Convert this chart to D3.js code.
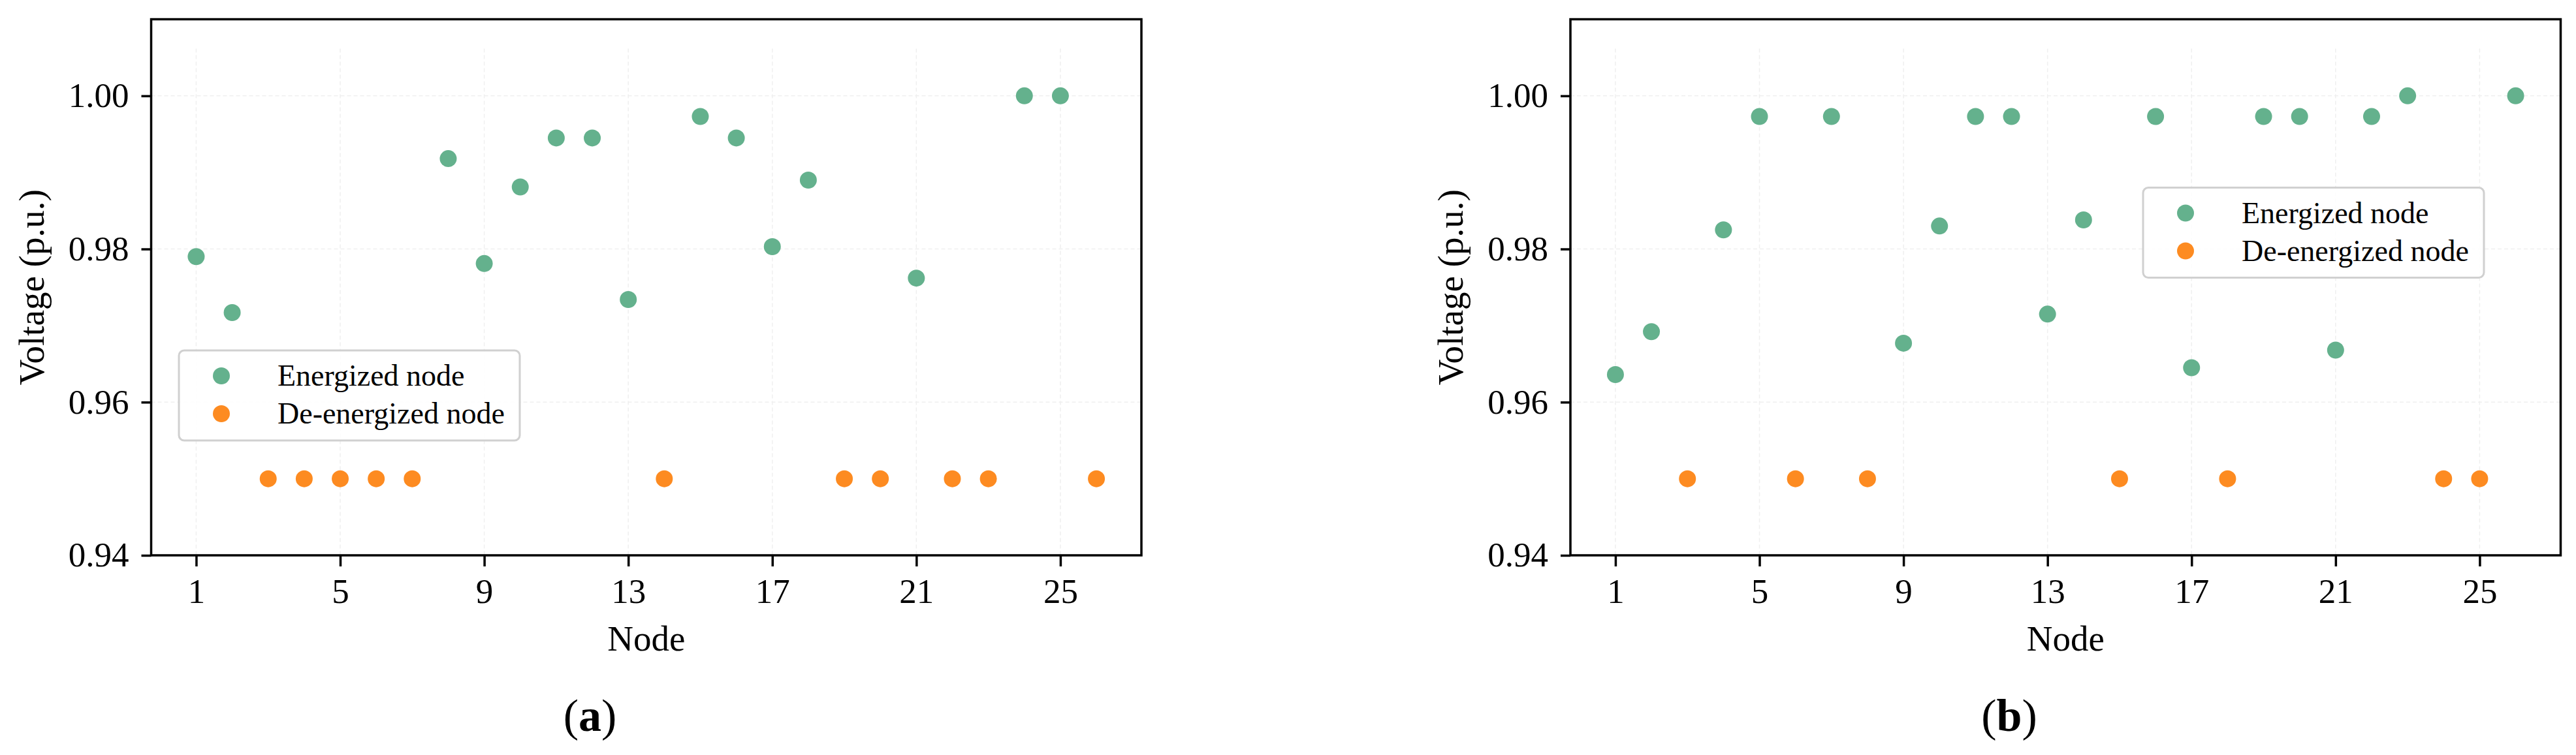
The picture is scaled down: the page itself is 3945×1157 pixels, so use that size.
<!DOCTYPE html>
<html>
<head>
<meta charset="utf-8">
<script src="https://cdn.jsdelivr.net/npm/d3@7"></script>
<style>
  html, body { margin: 0; padding: 0; background: #fff; }
  svg { display: block; font-family: 'Liberation Serif', 'Times New Roman', serif; }
</style>
</head>
<body>
<svg id="chart" width="3945" height="1157"></svg>
<script>
'use strict'

// node numbers along the feeder
const nodes = [1, 2, 3, 4, 5, 6, 7, 8, 9, 10, 11, 12, 13, 14, 15, 16, 17, 18, 19, 20, 21, 22, 23, 24, 25, 26]

// case (a)
const voltageA = [0.979, 0.9717, 0.95, 0.95, 0.95, 0.95, 0.95, 0.9918, 0.9781, 0.9881, 0.9945, 0.9945, 0.9734,
  0.95, 0.9973, 0.9945, 0.9803, 0.989, 0.95, 0.95, 0.9762, 0.95, 0.95, 1.0, 1.0, 0.95]
const energizedA = [1, 1, 0, 0, 0, 0, 0, 1, 1, 1, 1, 1, 1, 0, 1, 1, 1, 1, 0, 0, 1, 0, 0, 1, 1, 0]

// case (b)
const voltageB = [0.9636, 0.9692, 0.95, 0.9825, 0.9973, 0.95, 0.9973, 0.95, 0.9677, 0.983, 0.9973, 0.9973, 0.9715,
  0.9838, 0.95, 0.9973, 0.9645, 0.95, 0.9973, 0.9973, 0.9668, 0.9973, 1.0, 0.95, 0.95, 1.0]
const energizedB = [1, 1, 0, 1, 1, 0, 1, 0, 1, 1, 1, 1, 1, 1, 0, 1, 1, 0, 1, 1, 1, 1, 1, 0, 0, 1]

const xTicks = [1, 5, 9, 13, 17, 21, 25]
const yTicks = [0.94, 0.96, 0.98, 1.0]
const seriesNames = ['Energized node', 'De-energized node']
const seriesColors = ['#64b18d', '#fd8b21']

const xDomain = [-0.25, 27.25]
const yDomain = [0.94, 1.01]

const plotW = 1516.5,
  plotH = 821.5

const svg = d3.select('#chart')

const panels = [
  { left: 231.5, top: 29.5, volts: voltageA, state: energizedA, tag: 'a', legend: [42.5, 507.5] },
  { left: 2405, top: 29.5, volts: voltageB, state: energizedB, tag: 'b', legend: [877, 258] }
]

panels.forEach(p => drawPanel(p))

function drawPanel(p) {
  const g = svg.append('g').attr('transform', 'translate(' + p.left + ',' + p.top + ')')

  const x = d3.scaleLinear().domain(xDomain).range([0, plotW])
  const y = d3.scaleLinear().domain(yDomain).range([plotH, 0])

  // very faint dashed grid
  g.append('g')
    .selectAll('line')
    .data(xTicks)
    .enter()
    .append('line')
    .attr('x1', d => x(d))
    .attr('x2', d => x(d))
    .attr('y1', 45)
    .attr('y2', plotH)
    .attr('stroke', '#efefef')
    .attr('stroke-width', 1.5)
    .attr('stroke-dasharray', '6,4')
  g.append('g')
    .selectAll('line')
    .data(yTicks)
    .enter()
    .append('line')
    .attr('x1', 0)
    .attr('x2', plotW)
    .attr('y1', d => y(d))
    .attr('y2', d => y(d))
    .attr('stroke', '#efefef')
    .attr('stroke-width', 1.5)
    .attr('stroke-dasharray', '6,4')

  // axes
  const xAxis = g
    .append('g')
    .attr('transform', 'translate(0,' + plotH + ')')
    .call(d3.axisBottom(x).tickValues(xTicks).tickSize(17).tickPadding(18).tickFormat(d3.format('d')))
  const yAxis = g
    .append('g')
    .call(d3.axisLeft(y).tickValues(yTicks).tickSize(15).tickPadding(19).tickFormat(d3.format('.2f')))

  ;[xAxis, yAxis].forEach(a => {
    a.select('.domain').remove()
    a.selectAll('.tick line').attr('stroke', '#000').attr('stroke-width', 3.5)
    a.selectAll('.tick text')
      .attr('fill', '#000')
      .style('font-family', "'Liberation Serif', 'Times New Roman', serif")
      .style('font-size', '53px')
  })

  // points
  const pts = nodes.map((n, i) => ({ node: n, v: p.volts[i], on: p.state[i] }))
  ;[1, 0].forEach(flag => {
    g.append('g')
      .selectAll('circle')
      .data(pts.filter(d => d.on === flag))
      .enter()
      .append('circle')
      .attr('cx', d => x(d.node))
      .attr('cy', d => y(d.v))
      .attr('r', 13)
      .attr('fill', seriesColors[flag ? 0 : 1])
  })

  // frame
  g.append('rect')
    .attr('width', plotW)
    .attr('height', plotH)
    .attr('fill', 'none')
    .attr('stroke', '#000')
    .attr('stroke-width', 3.5)

  // labels
  g.append('text')
    .attr('x', plotW / 2)
    .attr('y', 967)
    .attr('text-anchor', 'middle')
    .style('font-size', '55px')
    .text('Node')

  g.append('text')
    .attr('transform', 'translate(-165,' + plotH / 2 + ') rotate(-90)')
    .attr('text-anchor', 'middle')
    .style('font-size', '55px')
    .text('Voltage (p.u.)')

  const cap = g
    .append('text')
    .attr('x', 672)
    .attr('y', 1090)
    .attr('text-anchor', 'middle')
    .style('font-size', '70px')
  cap.append('tspan').text('(')
  cap.append('tspan').style('font-weight', 'bold').text(p.tag)
  cap.append('tspan').text(')')

  // legend
  const lg = g.append('g').attr('transform', 'translate(' + p.legend[0] + ',' + p.legend[1] + ')')
  lg.append('rect')
    .attr('width', 522)
    .attr('height', 138)
    .attr('rx', 8)
    .attr('fill', '#fff')
    .attr('fill-opacity', 0.85)
    .attr('stroke', '#d0d0d0')
    .attr('stroke-width', 3)
  seriesNames.forEach((name, i) => {
    const rowY = 39 + i * 58
    lg.append('circle')
      .attr('cx', 65)
      .attr('cy', rowY)
      .attr('r', 13)
      .attr('fill', seriesColors[i])
    lg.append('text')
      .attr('x', 151)
      .attr('y', rowY + 15)
      .style('font-size', '46px')
      .text(name)
  })
}
</script>
</body>
</html>
